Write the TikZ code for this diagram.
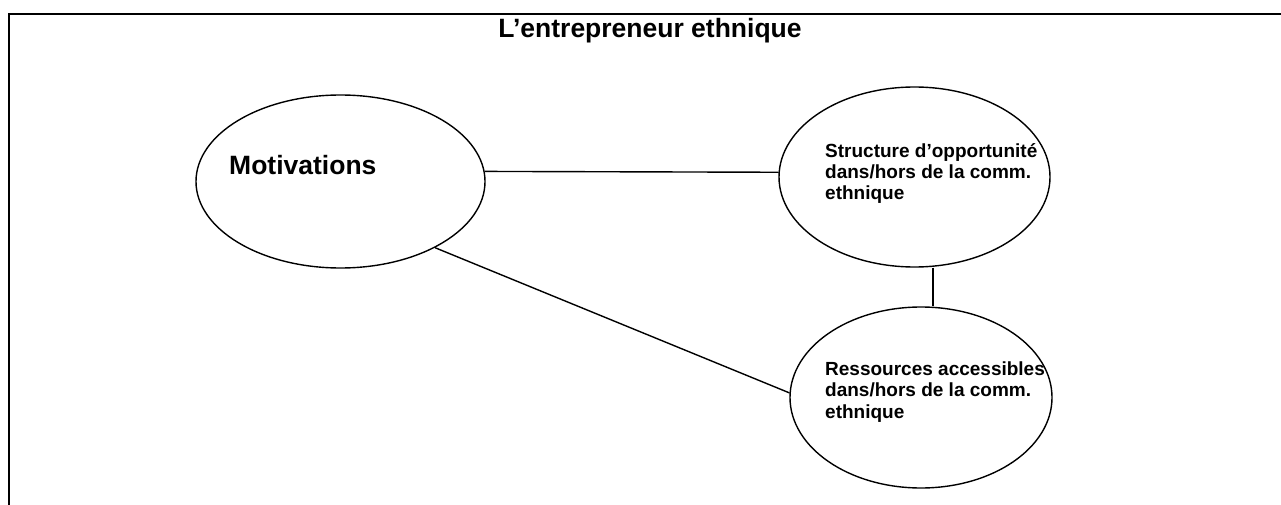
\documentclass[tikz,border=0pt]{standalone}
\usepackage{fontspec}
\setmainfont{Liberation Sans}
\usetikzlibrary{shapes.geometric,calc}
\begin{document}
\begin{tikzpicture}[x=1pt,y=-1pt,
  bubble/.style={draw,ellipse,line width=1.4pt,inner sep=0pt},
  bigtxt/.style={font=\bfseries\fontsize{26.5}{30}\selectfont,inner sep=0pt,anchor=base},
  smalltxt/.style={font=\bfseries\fontsize{19}{21.5}\selectfont,inner sep=0pt,anchor=base west,align=left},
  link/.style={line width=1.4pt}]
\useasboundingbox (0,0) rectangle (1281,505);
\draw[line width=2.2pt] (9,505) -- (9,14) -- (1281,14);
\node[bigtxt] (title) at (650,38) {L’entrepreneur ethnique};
\node[bubble,minimum width=289pt,minimum height=173pt] (M) at (340.5,181.5) {};
\node[bubble,minimum width=271pt,minimum height=180pt] (S) at (914.5,177) {};
\node[bubble,minimum width=262pt,minimum height=181pt] (R) at (921,397.5) {};
\node[bigtxt,anchor=base west] (mt) at (229,175) {Motivations};
\node[smalltxt] (st) at (825,200) {Structure d’opportunité\\dans/hors de la comm.\\ethnique};
\node[smalltxt] (rt) at (825,418) {Ressources accessibles\\dans/hors de la comm.\\ethnique};
\draw[link] (M.4) -- (S.178);
\draw[link] (M.-35.5) -- (R.178);
\draw[link] ($(S.south)+(18.5,0)$) -- ($(R.north)+(12,0)$);
\end{tikzpicture}
\end{document}
